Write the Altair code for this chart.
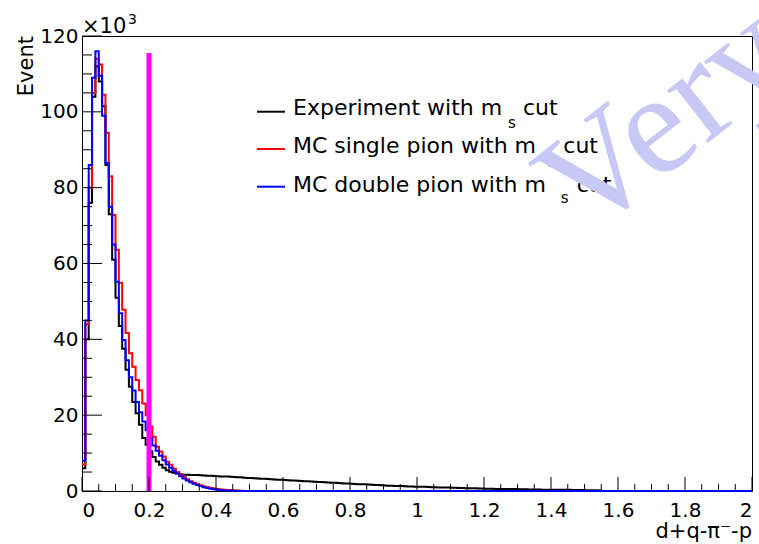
import altair as alt
import pandas as pd

# ---------------- data (values in units of 10^3 events, 0.01-wide bins from 0) ----------------
BIN_WIDTH = 0.01
N_BINS = 200

experiment = [6, 40, 76, 104, 112, 108, 101.5, 86, 73, 61,
              51, 43.5, 37.5, 32, 27.5, 23.5, 20.5, 17.5, 14, 12.2,
              10.5, 9, 7.8, 6.9, 6.1, 5.5, 5.1, 4.8, 4.6, 4.45,
              4.3, 4.3, 4.25, 4.2, 4.2, 4.15, 4.1, 4.0, 4.0, 3.95,
              3.9, 3.85, 3.8, 3.8, 3.75, 3.7, 3.65, 3.6, 3.5, 3.45,
              3.4, 3.35, 3.3, 3.25, 3.2, 3.15, 3.1, 3.05, 3.0, 2.95,
              2.9, 2.85, 2.8, 2.75, 2.7, 2.65, 2.6, 2.55, 2.5, 2.45,
              2.4, 2.35, 2.3, 2.25, 2.2, 2.15, 2.1, 2.05, 2.0, 1.95,
              1.9, 1.85, 1.8, 1.8, 1.75, 1.7, 1.65, 1.6, 1.55, 1.5,
              1.45, 1.4, 1.4, 1.35, 1.3, 1.3, 1.25, 1.2, 1.2, 1.15,
              1.15, 1.1, 1.1, 1.05, 1.0, 1.0, 0.95, 0.95, 0.9, 0.9,
              0.85, 0.85, 0.8, 0.8, 0.75, 0.75, 0.7, 0.7, 0.65, 0.65,
              0.6, 0.6, 0.6, 0.55, 0.55, 0.55, 0.5, 0.5, 0.5, 0.5,
              0.45, 0.45, 0.45, 0.4, 0.4, 0.4, 0.4, 0.35, 0.35, 0.35,
              0.35, 0.3, 0.3, 0.3, 0.3, 0.3, 0.25, 0.25, 0.25, 0.25,
              0.2, 0.2, 0.2, 0.2, 0.15]

mc_single = [7, 44, 80, 105, 114, 112.5, 104.5, 94.5, 83, 72.8,
             63.6, 54.9, 47.8, 41.7, 36.3, 32.8, 29.3, 26.6, 23.1, 20,
             17, 14.3, 11.7, 10.4, 9.1, 7.7, 6.9, 5.9, 5.0, 4.3,
             3.7, 3.1, 2.6, 2.2, 1.8, 1.5, 1.2, 1.0, 0.8, 0.65,
             0.5, 0.4, 0.3, 0.25, 0.2, 0.15, 0.1, 0.05]

mc_double = [8, 45, 86, 109, 116, 109.5, 99, 86.5, 75, 65,
             55.2, 46.9, 39.8, 34.5, 30, 26.5, 23.5, 20.8, 18.3, 16,
             14, 12, 10.6, 9.3, 8.1, 7.0, 6.1, 5.3, 4.6, 3.9,
             3.3, 2.8, 2.3, 1.9, 1.6, 1.3, 1.0, 0.8, 0.6, 0.45,
             0.35, 0.25, 0.2, 0.15, 0.1, 0.05]

cut_position = [0.2]
cut_height = [115.5]

x_tick_labels = [0, 0.2, 0.4, 0.6, 0.8, 1, 1.2, 1.4, 1.6, 1.8, 2]
y_tick_labels = [0, 20, 40, 60, 80, 100, 120]

legend_labels = ["Experiment with m", "MC single pion with m", "MC double pion with m"]
legend_colors = ["#000000", "#ff0000", "#0000ff"]

# ---------------- helpers ----------------
W, H = 670, 455
FONT = "DejaVu Sans"


def step_frame(vals):
    vals = list(vals) + [0.0] * (N_BINS - len(vals))
    xs = [round(i * BIN_WIDTH, 2) for i in range(N_BINS + 1)]
    return pd.DataFrame({"x": xs, "y": vals + [vals[-1]]})


xscale = alt.Scale(domain=[0, 2], nice=False, zero=False)
yscale = alt.Scale(domain=[0, 120], nice=False, zero=True)
x_axis = alt.Axis(values=x_tick_labels, format="~g", labelPadding=9, title=None)
y_axis = alt.Axis(values=y_tick_labels, format="d", labelPadding=4, title=None)


def X(field):
    return alt.X(field, scale=xscale, axis=x_axis, title=None)


def Y(field):
    return alt.Y(field, scale=yscale, axis=y_axis, title=None)


def hist(vals, color):
    return alt.Chart(step_frame(vals)).mark_line(
        interpolate="step-after", color=color, strokeWidth=2
    ).encode(x=X("x:Q"), y=Y("y:Q"))


h_exp = hist(experiment, "#000000")
h_single = hist(mc_single, "#ff0000")
h_double = hist(mc_double, "#0000ff")

cut_df = pd.DataFrame({"x": cut_position, "y0": [0] * len(cut_position), "y1": cut_height})
cut_line = alt.Chart(cut_df).mark_rule(color="#ff00ff", strokeWidth=5).encode(
    x=X("x:Q"), y=Y("y0:Q"), y2="y1:Q")

# inward ROOT-style ticks
x_major = [round(0.2 * i, 2) for i in range(11)]
x_minor = [round(0.05 * i, 2) for i in range(41) if i % 4]
y_major = [20 * i for i in range(7)]
y_minor = [5 * i for i in range(25) if i % 4]


def xticks(vals, length):
    return alt.Chart(pd.DataFrame({"v": vals})).mark_rule(color="black", strokeWidth=1).encode(
        x=X("v:Q"), y=alt.value(H), y2=alt.value(H - length))


def yticks(vals, length):
    return alt.Chart(pd.DataFrame({"v": vals})).mark_rule(color="black", strokeWidth=1).encode(
        y=Y("v:Q"), x=alt.value(0), x2=alt.value(length))


ticks = [xticks(x_major, 14), xticks(x_minor, 7), yticks(y_major, 20), yticks(y_minor, 10)]

one = pd.DataFrame({"k": [0]})


def label(text, x, y, size=22, **kw):
    return alt.Chart(one).mark_text(
        text=text, align=kw.pop("align", "left"), baseline="alphabetic", font=kw.pop("font", FONT),
        fontSize=size, color=kw.pop("color", "black"), **kw
    ).encode(x=alt.value(x), y=alt.value(y))


# legend (drawn by hand, ROOT TLegend style), positions in pixels of the plot area
row_text_y = [79, 117.3, 155.7]
row_line_y = [75.7, 113, 150.7]
row_sub_x = [426, 466.3, 478.7]
row_sub_y = [92.3, 130.7, 167.3]
row_cut_x = [441, 481.3, 494.7]

legend_layers = []
for i, (lab, col) in enumerate(zip(legend_labels, legend_colors)):
    legend_layers.append(
        alt.Chart(one).mark_rule(color=col, strokeWidth=2).encode(
            x=alt.value(175), x2=alt.value(203), y=alt.value(row_line_y[i])))
    legend_layers.append(label(lab, 211, row_text_y[i], 22))
    legend_layers.append(label("s", row_sub_x[i], row_sub_y[i], 15))
    legend_layers.append(label("cut", row_cut_x[i], row_text_y[i], 22))

y_title = label("Event", -49, 0, 21, angle=270, align="right")
x_title = label("d+q-π⁻-p", W, 502, 21, align="right")
exponent = label("×10", 0, -3, 21)
exponent_power = label("3", 46, -12, 14)
watermark = label("Very", 503, 203, 145, angle=322, font="Liberation Serif", color="#c8c8f5")

chart = alt.layer(
    h_exp, h_single, h_double, cut_line, *ticks,
    *legend_layers,
    y_title, x_title, exponent, exponent_power, watermark,
).properties(
    width=W, height=H,
    autosize=alt.AutoSizeParams(type="none"),
    padding={"left": 82, "top": 36, "right": 7, "bottom": 53},
    background="white",
).configure_view(
    stroke="black", strokeWidth=1
).configure_axis(
    grid=False, ticks=False, tickSize=0, domain=False,
    labelFont=FONT, labelFontSize=20, labelColor="black",
)

chart.save("out.html", embed_options={"renderer": "svg", "actions": False})
